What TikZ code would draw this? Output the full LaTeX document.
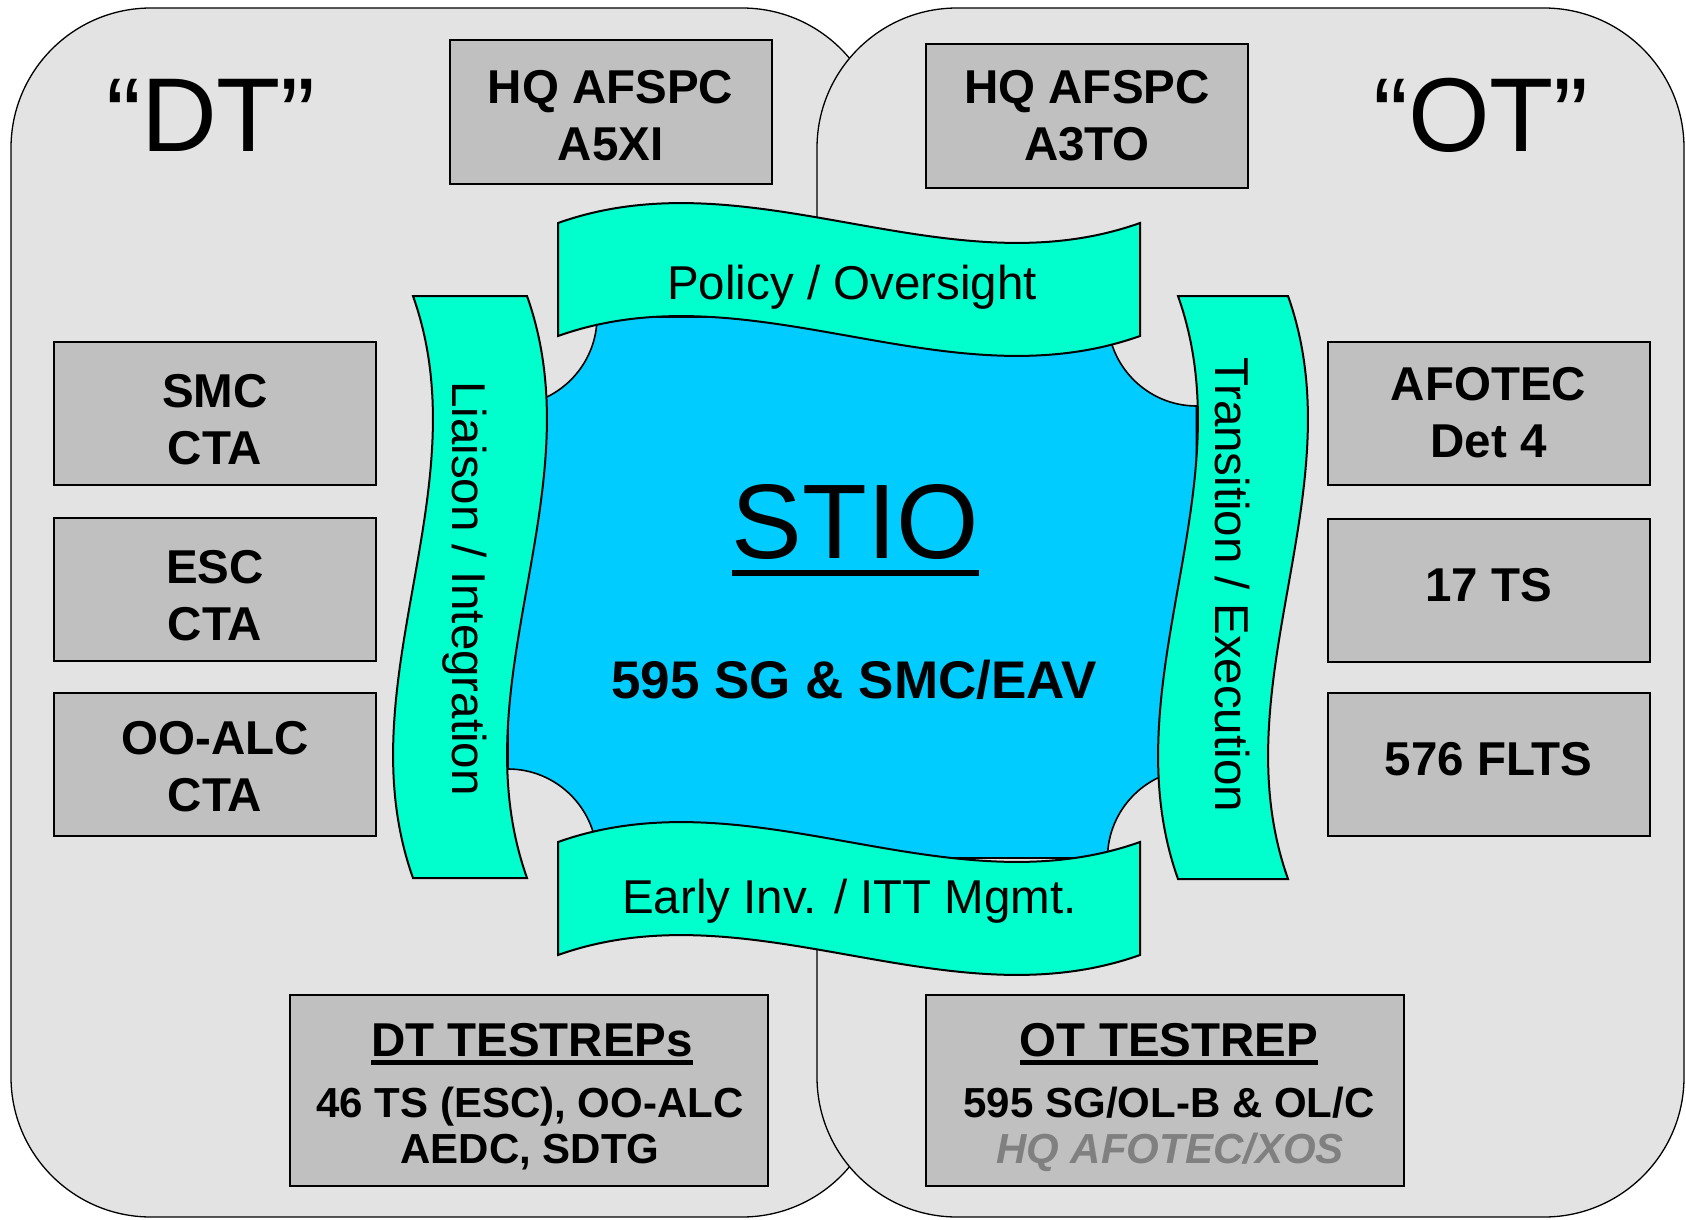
\documentclass[tikz,border=0pt]{standalone}
\usepackage{fontspec}
\setmainfont{Liberation Sans}
\usepackage{xcolor}
\usepackage{tikz}

\definecolor{panelgray}{HTML}{E3E3E3}
\definecolor{boxgray}{HTML}{C0C0C0}
\definecolor{stioblue}{HTML}{00CCFF}
\definecolor{ribbongreen}{HTML}{00FFCC}
\definecolor{notegray}{HTML}{808080}

\newcommand{\fsz}[2]{\fontsize{#1}{#2}\selectfont}
\newsavebox{\ulsave}
\newcommand{\ulword}[3]{\sbox{\ulsave}{#1}\rlap{\usebox{\ulsave}}\rule[-#2]{\wd\ulsave}{#3}}

\begin{document}
\begin{tikzpicture}[
  x=1pt,y=-1pt,
  panel/.style={draw=black,line width=1.3pt,fill=panelgray,rounded corners=140pt},
  graybox/.style={draw=black,line width=2pt,fill=boxgray,minimum width=322pt,minimum height=143pt,
    inner sep=0pt,align=center,font=\fsz{47.5}{57}\bfseries},
  onerow/.style={text depth=11pt},
  tworow/.style={text height=#1},
  bigquote/.style={anchor=base,font=\fsz{105}{126}},
  ribbon/.style={draw=black,line width=2pt,fill=ribbongreen},
  ribbonlabel/.style={anchor=base,font=\fsz{47.5}{57}},
  reptitle/.style={anchor=base,font=\fsz{47.5}{57}\bfseries},
  repline/.style={anchor=base,font=\fsz{42}{50}\bfseries}
  ]
  \useasboundingbox (0,0) rectangle (1686,1220);
  \draw[panel] (11,8) rectangle (882,1217);
  \draw[panel] (817,8) rectangle (1684,1217);

  \node[bigquote] (dt) at (211,152) {“DT”};
  \node[bigquote] (ot) at (1481,152) {“OT”};

  \node[graybox,minimum height=144pt,tworow=98pt] (a5xi) at (610.5,112) {HQ AFSPC\\A5XI};
  \node[graybox,minimum height=144pt] (a3to) at (1087,116) {HQ AFSPC\\A3TO};

  \node[graybox,tworow=103pt] (smc) at (215,413) {SMC\\CTA};
  \node[graybox,tworow=103pt] (esc) at (215,589.5) {ESC\\CTA};
  \node[graybox,tworow=95pt] (ooalc) at (215,764.5) {OO-ALC\\CTA};

  \node[graybox] (afotec) at (1488.5,413) {AFOTEC\\Det 4};
  \node[graybox,onerow] (ts17) at (1488.5,590) {17 TS};
  \node[graybox,onerow] (flts) at (1488.5,764) {576 FLTS};

  \node[graybox,minimum width=478pt,minimum height=191pt] (dtrep) at (529,1090.5) {};
  \node[reptitle] (dttitle) at (532,1056) {\ulword{DT TESTREPs}{9pt}{5pt}};
  \node[repline] (dtorgs) at (530,1117) {46 TS (ESC), OO-ALC};
  \node[repline] (dtsites) at (530,1163) {AEDC, SDTG};

  \node[graybox,minimum width=478pt,minimum height=191pt] (otrep) at (1165,1090.5) {};
  \node[reptitle] (ottitle) at (1169,1056) {\ulword{OT TESTREP}{9pt}{5pt}};
  \node[repline] (otorgs) at (1169,1117) {595 SG/OL-B \& OL/C};
  \node[repline,text=notegray,font=\fsz{42}{50}\bfseries\itshape] (otsite) at (1170,1163) {HQ AFOTEC/XOS};

  \draw[draw=black,line width=1.6pt,fill=stioblue] (597,317) -- (1107.5,317)
    .. controls +(0,49) and +(-49,0) .. (1196.5,406) -- (1196.5,769)
    .. controls +(-49,0) and +(0,-49) .. (1107.5,858) -- (597,858)
    .. controls +(0,-49) and +(49,0) .. (508,769) -- (508,406)
    .. controls +(49,0) and +(0,49) .. (597,317) -- cycle;
  \node[anchor=base,font=\fsz{106}{127}] (stio) at (855.5,558) {\ulword{STIO}{18pt}{6pt}};
  \node[anchor=base,font=\fsz{53}{64}\bfseries] (unit) at (854,698) {595 SG \& SMC/EAV};

  \draw[ribbon] (558,223) .. controls (752,154) and (946,292) .. (1140,223)
    -- (1140,336) .. controls (946,405) and (752,267) .. (558,336) -- cycle;
  \node[ribbonlabel] (policy) at (852,299) {Policy / Oversight};
  \draw[ribbon] (558,842) .. controls (752,773) and (946,911) .. (1140,842)
    -- (1140,955) .. controls (946,1024) and (752,886) .. (558,955) -- cycle;
  \node[ribbonlabel] (early) at (849.5,913) {Early Inv. / ITT Mgmt.};
  \draw[ribbon] (413,296) .. controls (482,490) and (344,684) .. (413,878)
    -- (527,878) .. controls (458,684) and (596,490) .. (527,296) -- cycle;
  \node[ribbonlabel,rotate=-90] (liaison) at (452,588.5) {Liaison / Integration};
  \draw[ribbon] (1178,296) .. controls (1247,490) and (1109,685) .. (1178,879)
    -- (1288,879) .. controls (1219,685) and (1357,490) .. (1288,296) -- cycle;
  \node[ribbonlabel,rotate=-90] (transition) at (1215,584.5) {Transition / Execution};
\end{tikzpicture}
\end{document}
